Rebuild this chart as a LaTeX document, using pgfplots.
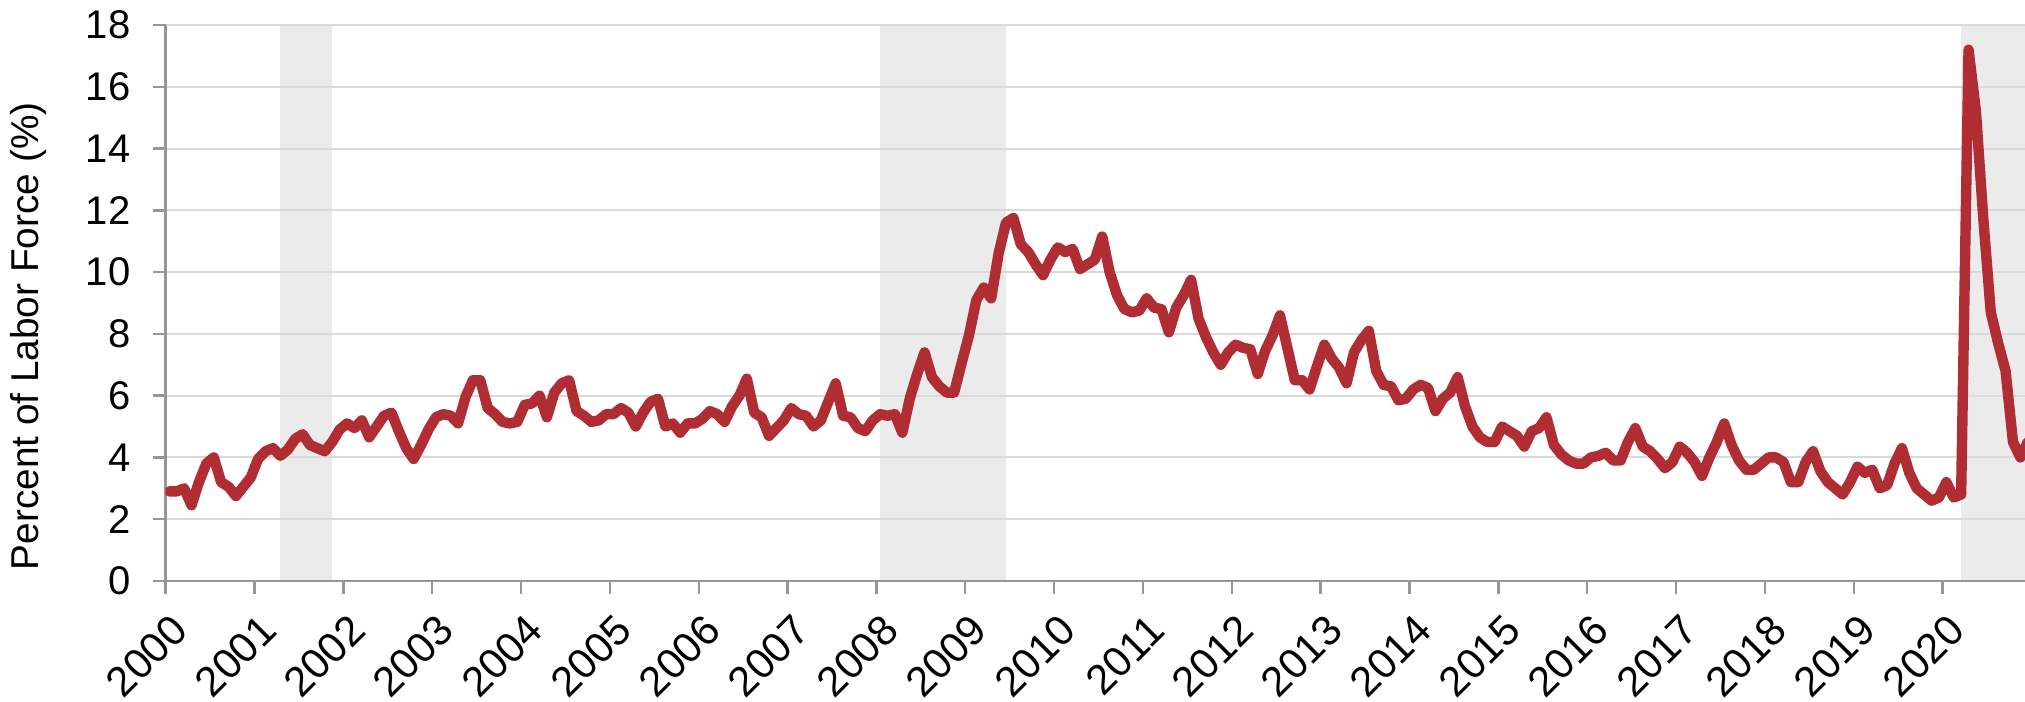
\documentclass[border=0pt]{standalone}
\usepackage{pgfplots}
\pgfplotsset{compat=1.18}
\usepackage{fontspec}
\setmainfont{Liberation Sans}
\setsansfont{Liberation Sans}
\definecolor{lineRed}{RGB}{176,45,52}
\definecolor{recGray}{RGB}{235,235,235}
\definecolor{gridGray}{RGB}{218,218,218}
\definecolor{axisGray}{RGB}{150,150,150}
\begin{document}
\begin{tikzpicture}
\begin{axis}[
    set layers,
    at={(41.4pt,30.25pt)}, anchor=south west,
    scale only axis,
    width=464.8pt, height=139pt,
    xmin=-0.5, xmax=250.6,
    ymin=0, ymax=18,
    ytick={0,2,...,18},
    xtick={-0.5,11.5,...,240},
    xticklabels={2000,2001,2002,2003,2004,2005,2006,2007,2008,2009,2010,2011,2012,2013,2014,2015,2016,2017,2018,2019,2020},
    axis x line*=bottom, axis y line*=left,
    axis line style={draw=axisGray, line width=0.6pt},
    tick align=outside, major tick length=3.25pt,
    tick style={draw=axisGray, line width=0.6pt},
    ymajorgrids, grid style={draw=gridGray, line width=0.5pt},
    /pgf/number format/assume math mode=true,
    yticklabel style={font=\fontsize{10}{12}\selectfont, xshift=-2pt},
    xticklabel style={font=\fontsize{10.5}{12}\selectfont, xshift=6pt, yshift=-4.8pt, rotate=45, anchor=east},
    ylabel={Percent of Labor Force (\%)},
    ylabel style={font=\fontsize{9.7}{11}\selectfont, at={(axis description cs:-0.074,0.44)}, anchor=center},
]
% recession shading
\addplot[fill=recGray, draw=none, on layer=axis background] coordinates {(15,0) (15,18) (22,18) (22,0)};
\addplot[fill=recGray, draw=none, on layer=axis background] coordinates {(96,0) (96,18) (113,18) (113,0)};
\addplot[fill=recGray, draw=none, on layer=axis background] coordinates {(242,0) (242,18) (252,18) (252,0)};
% monthly series, Jan 2000 = 0
\addplot[draw=lineRed, line width=2.6pt, line join=round, line cap=round, no marks] coordinates {
(0,2.9) (1,2.9) (2,3.0) (3,2.45) (4,3.2) (5,3.8) (6,4.0) (7,3.2) (8,3.05) (9,2.75) (10,3.05) (11,3.35)
(12,3.95) (13,4.2) (14,4.3) (15,4.05) (16,4.25) (17,4.6) (18,4.75) (19,4.4) (20,4.3) (21,4.2) (22,4.5) (23,4.9)
(24,5.1) (25,4.95) (26,5.2) (27,4.65) (28,5.0) (29,5.35) (30,5.45) (31,4.85) (32,4.3) (33,3.95) (34,4.4) (35,4.9)
(36,5.3) (37,5.4) (38,5.35) (39,5.1) (40,5.95) (41,6.5) (42,6.5) (43,5.6) (44,5.4) (45,5.15) (46,5.1) (47,5.15)
(48,5.7) (49,5.75) (50,6.0) (51,5.3) (52,6.1) (53,6.4) (54,6.5) (55,5.5) (56,5.35) (57,5.15) (58,5.2) (59,5.4)
(60,5.4) (61,5.6) (62,5.45) (63,5.0) (64,5.45) (65,5.8) (66,5.9) (67,5.0) (68,5.1) (69,4.8) (70,5.1) (71,5.1)
(72,5.25) (73,5.5) (74,5.4) (75,5.15) (76,5.65) (77,6.0) (78,6.55) (79,5.45) (80,5.3) (81,4.7) (82,4.95) (83,5.2)
(84,5.6) (85,5.4) (86,5.35) (87,5.0) (88,5.2) (89,5.8) (90,6.4) (91,5.35) (92,5.3) (93,4.95) (94,4.85) (95,5.2)
(96,5.4) (97,5.35) (98,5.4) (99,4.8) (100,5.9) (101,6.7) (102,7.4) (103,6.6) (104,6.3) (105,6.1) (106,6.1) (107,7.05)
(108,7.95) (109,9.1) (110,9.5) (111,9.15) (112,10.6) (113,11.6) (114,11.75) (115,10.9) (116,10.65) (117,10.25) (118,9.9) (119,10.4)
(120,10.8) (121,10.65) (122,10.75) (123,10.1) (124,10.25) (125,10.4) (126,11.15) (127,10.0) (128,9.25) (129,8.8) (130,8.7) (131,8.75)
(132,9.15) (133,8.85) (134,8.8) (135,8.05) (136,8.85) (137,9.25) (138,9.75) (139,8.5) (140,7.9) (141,7.4) (142,7.0) (143,7.4)
(144,7.65) (145,7.55) (146,7.5) (147,6.7) (148,7.45) (149,7.95) (150,8.6) (151,7.55) (152,6.5) (153,6.5) (154,6.2) (155,6.95)
(156,7.65) (157,7.2) (158,6.9) (159,6.4) (160,7.4) (161,7.8) (162,8.1) (163,6.8) (164,6.35) (165,6.3) (166,5.85) (167,5.9)
(168,6.2) (169,6.35) (170,6.25) (171,5.5) (172,5.9) (173,6.1) (174,6.6) (175,5.65) (176,5.0) (177,4.65) (178,4.5) (179,4.5)
(180,5.0) (181,4.85) (182,4.7) (183,4.35) (184,4.85) (185,4.95) (186,5.3) (187,4.4) (188,4.1) (189,3.9) (190,3.8) (191,3.8)
(192,4.0) (193,4.05) (194,4.15) (195,3.9) (196,3.9) (197,4.5) (198,4.95) (199,4.35) (200,4.2) (201,3.95) (202,3.65) (203,3.85)
(204,4.35) (205,4.15) (206,3.85) (207,3.4) (208,4.0) (209,4.5) (210,5.1) (211,4.4) (212,3.9) (213,3.6) (214,3.6) (215,3.8)
(216,4.0) (217,4.0) (218,3.85) (219,3.2) (220,3.2) (221,3.85) (222,4.2) (223,3.55) (224,3.2) (225,3.0) (226,2.8) (227,3.2)
(228,3.7) (229,3.5) (230,3.6) (231,3.0) (232,3.1) (233,3.8) (234,4.3) (235,3.5) (236,3.0) (237,2.8) (238,2.6) (239,2.7)
(240,3.2) (241,2.7) (242,2.8) (243,17.2) (244,15.2) (245,11.7) (246,8.7) (247,7.7) (248,6.8) (249,4.5) (250,4.0) (251,4.5)
};
\end{axis}
\pgfresetboundingbox
\path[use as bounding box] (0,0) rectangle (506.25pt,175.5pt);
\end{tikzpicture}
\end{document}
